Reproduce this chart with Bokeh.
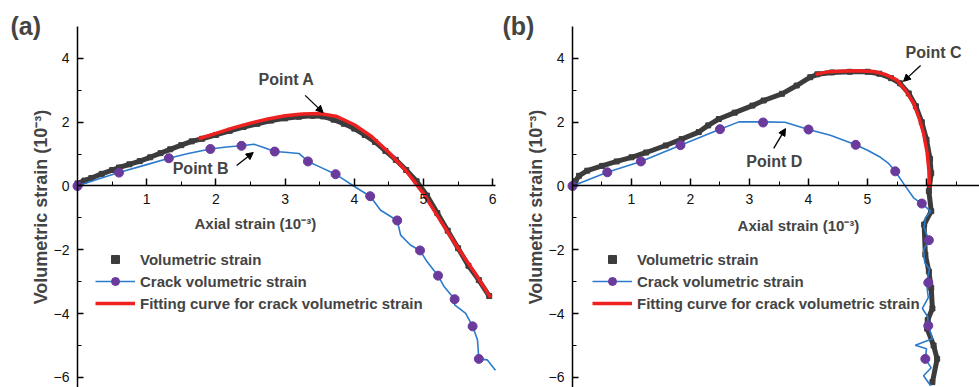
from bokeh.plotting import figure
from bokeh.models import (Legend, LegendItem, Label, Arrow, NormalHead, FixedTicker, Range1d)
from bokeh.layouts import row
from bokeh.embed import file_html
from bokeh.resources import INLINE

# ---------------- Panel (a) data ----------------
a_vol_x = [0, 0.1, 0.2, 0.35, 0.5, 0.6, 0.75, 0.9, 1.05, 1.2, 1.34, 1.5, 1.65, 1.8, 2.0, 2.2, 2.4, 2.6,
           2.8, 3.0, 3.2, 3.4, 3.55, 3.7, 3.85, 4.0, 4.15, 4.3, 4.45, 4.6, 4.75, 4.9, 5.05, 5.2, 5.35,
           5.5, 5.65, 5.8, 5.95]
a_vol_y = [0.08, 0.17, 0.25, 0.38, 0.5, 0.58, 0.68, 0.78, 0.9, 1.03, 1.15, 1.28, 1.4, 1.48, 1.6, 1.73,
           1.85, 1.95, 2.05, 2.12, 2.17, 2.2, 2.18, 2.08, 1.95, 1.8, 1.6, 1.38, 1.1, 0.82, 0.5, 0.15,
           -0.3, -0.85, -1.4, -1.95, -2.5, -2.95, -3.45]
a_fit_x = [1.75, 2.0, 2.25, 2.5, 2.75, 3.0, 3.25, 3.5, 3.75, 4.0, 4.25, 4.5, 4.75, 5.0, 5.25, 5.5,
           5.75, 5.97]
a_fit_y = [1.48, 1.65, 1.82, 1.97, 2.1, 2.2, 2.26, 2.27, 2.18, 1.92, 1.55, 1.05, 0.47, -0.24, -1.1,
           -1.95, -2.75, -3.5]
a_crack_x = [0, 0.3, 0.6, 1.0, 1.32, 1.6, 1.92, 2.15, 2.37, 2.55, 2.7, 2.85, 3.0, 3.2, 3.33, 3.5,
             3.73, 3.85, 3.99, 4.1, 4.23, 4.38, 4.62, 4.67, 4.81, 4.95, 5.05, 5.21, 5.30, 5.45,
             5.45, 5.61, 5.71, 5.78, 5.80, 5.92, 6.04]
a_crack_y = [0, 0.22, 0.42, 0.67, 0.87, 1.02, 1.16, 1.22, 1.26, 1.31, 1.2, 1.08, 1.06, 1.02, 0.77,
             0.6, 0.37, 0.2, 0.0, -0.15, -0.32, -0.76, -1.08, -1.54, -1.85, -2.02, -2.37, -2.81,
             -3.16, -3.55, -3.73, -3.99, -4.40, -4.82, -5.42, -5.45, -5.78]
a_mark_x = [0, 0.60, 1.32, 1.92, 2.37, 2.85, 3.33, 3.73, 4.23, 4.62, 4.95, 5.21, 5.45, 5.71, 5.80]
a_mark_y = [0, 0.42, 0.87, 1.16, 1.26, 1.08, 0.77, 0.37, -0.32, -1.08, -2.02, -2.81, -3.55, -4.40, -5.42]

# ---------------- Panel (b) data ----------------
b_vol_x = [0, 0.05, 0.11, 0.25, 0.5, 0.75, 1.0, 1.25, 1.58, 1.85, 2.14, 2.3, 2.48, 2.75, 3.05, 3.24,
           3.55, 3.8, 4.03, 4.15, 4.4, 4.7, 5.0, 5.2, 5.4, 5.55, 5.7, 5.82, 5.92, 6.0, 6.06, 6.08,
           6.04, 6.08, 5.96, 5.98, 6.04, 6.08, 6.1, 6.02, 6.01, 6.12, 6.18, 6.1]
b_vol_y = [0, 0.15, 0.32, 0.48, 0.63, 0.77, 0.9, 1.05, 1.27, 1.47, 1.69, 1.9, 2.1, 2.3, 2.52, 2.68,
           2.89, 3.15, 3.41, 3.5, 3.56, 3.58, 3.58, 3.52, 3.38, 3.22, 2.9, 2.5, 2.0, 1.45, 0.85, 0.4,
           -0.16, -0.79, -1.21, -2.15, -2.68, -3.2, -3.84, -4.2, -4.47, -5.0, -5.42, -6.15]
b_fit_x = [4.12, 4.3, 4.54, 4.8, 5.11, 5.3, 5.5, 5.65, 5.78, 5.88, 5.95, 6.01, 6.04, 6.05]
b_fit_y = [3.5, 3.57, 3.6, 3.61, 3.59, 3.5, 3.32, 2.98, 2.6, 2.1, 1.65, 1.05, 0.5, -0.05]
b_crack_x = [0, 0.59, 1.16, 1.83, 2.50, 2.82, 3.23, 3.6, 4.0, 4.37, 4.80, 5.0, 5.22, 5.35, 5.47,
             5.62, 5.78, 5.92, 6.07, 5.98, 5.96, 6.04, 5.95, 5.97, 6.05, 6.0, 6.03, 5.93, 6.02,
             6.03, 6.1, 5.81, 6.0, 5.98, 6.08, 5.95, 6.07]
b_crack_y = [0, 0.43, 0.77, 1.28, 1.78, 2.01, 2.01, 2.0, 1.77, 1.59, 1.29, 1.12, 0.9, 0.72, 0.46,
             0.05, -0.37, -0.55, -0.79, -1.0, -1.3, -1.70, -2.0, -2.4, -2.6, -3.03, -3.5, -3.84,
             -4.1, -4.38, -4.79, -4.99, -5.1, -5.42, -5.7, -5.95, -6.26]
b_mark_x = [0, 0.59, 1.16, 1.83, 2.50, 3.23, 4.0, 4.80, 5.47, 5.92, 6.04, 6.03, 6.03, 5.98]
b_mark_y = [0, 0.43, 0.77, 1.28, 1.78, 1.99, 1.77, 1.29, 0.46, -0.55, -1.70, -3.03, -4.38, -5.42]

y_major = [-6, -4, -2, 0, 2, 4]
y_minor = [-5, -3, -1, 1, 3]
x_major = [1, 2, 3, 4, 5, 6]
x_minor = [0.5, 1.5, 2.5, 3.5, 4.5, 5.5, 6.5]
legend_labels = ["Volumetric strain", "Crack volumetric strain",
                 "Fitting curve for crack volumetric strain"]

FONT = "Liberation Sans"
BLACK = "#3c3c3c"
BLUE = "#2b7bcc"
PURPLE = "#6a3a9c"
RED = "#ee2020"
Y0, Y1 = -6.317, 5.815


def panel(width, x0, x1, xmax_axis, vx, vy, fx, fy, cx, cy, mx, my, tag, tag_x,
          axlab_xy, points, leg_x, hide_six=False):
    p = figure(width=width, height=387, x_range=Range1d(x0, x1), y_range=Range1d(Y0, Y1),
               output_backend="svg", toolbar_location=None,
               min_border_left=0, min_border_right=0, min_border_top=0, min_border_bottom=0)
    p.grid.visible = False
    p.outline_line_color = None

    xa = p.xaxis[0]
    xa.fixed_location = 0
    xa.bounds = (0, xmax_axis)
    xa.ticker = FixedTicker(ticks=x_major, minor_ticks=x_minor)
    xa.major_tick_in = 7
    xa.major_tick_out = 0
    xa.minor_tick_in = 4
    xa.minor_tick_out = 0
    xa.axis_line_width = 1.5
    xa.major_tick_line_width = 1.5
    xa.major_label_standoff = 8
    xa.major_label_text_font = FONT
    xa.major_label_text_font_size = "14px"
    xa.major_label_text_color = "#111111"
    if hide_six:
        xa.major_label_overrides = {6: ""}

    ya = p.yaxis[0]
    ya.fixed_location = 0
    ya.bounds = (Y0, 5)
    ya.ticker = FixedTicker(ticks=y_major, minor_ticks=y_minor)
    ya.major_tick_in = 6
    ya.major_tick_out = 0
    ya.minor_tick_in = 4
    ya.minor_tick_out = 0
    ya.axis_line_width = 1.5
    ya.major_tick_line_width = 1.5
    ya.major_label_standoff = 8
    ya.major_label_text_font = FONT
    ya.major_label_text_font_size = "14px"
    ya.major_label_text_color = "#111111"
    ya.axis_label = "Volumetric strain (10\u207b\u00b3)"
    ya.axis_label_text_font = FONT
    ya.axis_label_text_font_size = "18px"
    ya.axis_label_text_font_style = "bold"
    ya.axis_label_standoff = 0

    p.line(vx, vy, line_color=BLACK, line_width=5)
    sq = p.scatter(vx, vy, marker="square", size=5, color=BLACK)
    bl = p.line(cx, cy, line_color=BLUE, line_width=1.6)
    dots = p.scatter(mx, my, marker="circle", size=9, color=PURPLE)
    red = p.line(fx, fy, line_color=RED, line_width=3.5)

    legend = Legend(items=[LegendItem(label=legend_labels[0], renderers=[sq]),
                           LegendItem(label=legend_labels[1], renderers=[bl, dots]),
                           LegendItem(label=legend_labels[2], renderers=[red])],
                    location=(leg_x, 74), border_line_color=None, background_fill_alpha=0,
                    label_text_font=FONT, label_text_font_style="bold",
                    label_text_font_size="15px", glyph_width=40, glyph_height=20,
                    label_height=20, spacing=2, padding=0, margin=0, label_standoff=5)
    p.add_layout(legend)

    p.add_layout(Label(x=tag_x, y=5.44, text=tag, text_font=FONT, text_font_size="25px",
                       text_font_style="bold", text_baseline="top", text_align="left"))
    p.add_layout(Label(x=axlab_xy[0], y=axlab_xy[1], text="Axial strain (10\u207b\u00b3)",
                       text_font=FONT, text_font_size="15px", text_font_style="bold",
                       text_align="center", text_baseline="middle"))
    for (txt, lx, ly, xs, ys, xe, ye) in points:
        p.add_layout(Label(x=lx, y=ly, text=txt, text_font=FONT, text_font_size="16px",
                           text_font_style="bold", text_align="center", text_baseline="middle"))
        p.add_layout(Arrow(end=NormalHead(size=7, fill_color="black", line_color="black"),
                           x_start=xs, y_start=ys, x_end=xe, y_end=ye, line_width=1.3))
    return p


pa = panel(500, -1.113, 6.113, 6.04, a_vol_x, a_vol_y, a_fit_x, a_fit_y, a_crack_x, a_crack_y,
           a_mark_x, a_mark_y, "(a)", -0.968, (2.57, -1.18),
           [("Point A", 3.02, 3.34, 3.29, 2.84, 3.55, 2.30),
            ("Point B", 1.78, 0.55, 2.30, 0.64, 2.54, 1.05)], 95)
pb = panel(479, -1.220, 6.898, 6.898, b_vol_x, b_vol_y, b_fit_x, b_fit_y, b_crack_x, b_crack_y,
           b_mark_x, b_mark_y, "(b)", -1.186, (3.83, -1.24),
           [("Point C", 6.12, 4.18, 5.90, 3.78, 5.61, 3.28),
            ("Point D", 3.42, 0.77, 3.41, 1.18, 3.61, 1.80)], 92, hide_six=True)

layout = row(pa, pb)
open("out.html", "w").write(file_html(layout, INLINE))
